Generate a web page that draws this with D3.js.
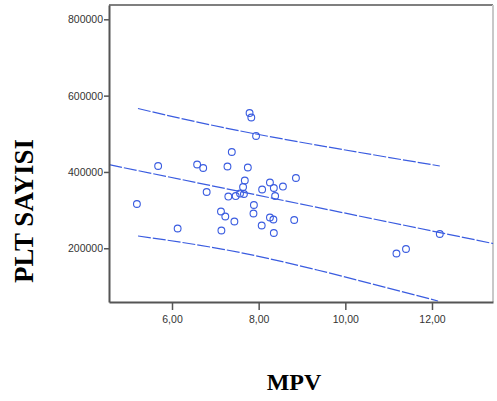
<!DOCTYPE html>
<html>
<head>
<meta charset="utf-8">
<script src="https://cdn.jsdelivr.net/npm/d3@7"></script>
<style>
  body { margin: 0; background: #fff; }
  svg { display: block; }
</style>
</head>
<body>
<svg id="chart" width="497" height="401"></svg>
<script>
// MPV (x) and PLT sayisi (y) per hasta
const mpv = [7.79, 7.83, 7.94, 7.38, 5.68, 6.58, 6.72, 7.28, 7.75, 8.86,
  5.19, 6.80, 7.68, 7.64, 7.30, 7.47, 7.57, 7.66, 8.08, 8.26,
  8.35, 8.56, 8.38, 7.89, 7.88, 7.13, 7.23, 7.44, 8.26, 8.34,
  8.82, 8.07, 6.13, 7.14, 8.35, 11.18, 11.40, 12.18];
const plt = [554400, 542700, 494200, 452300, 415600, 419500, 410300, 414300, 411600, 384100,
  316000, 347400, 377600, 360500, 335600, 336900, 343500, 342200, 354000, 372300,
  357900, 361800, 336900, 313400, 291100, 296300, 283200, 270100, 280600, 275400,
  274100, 259700, 251800, 246600, 240000, 186300, 198100, 237400];

// regresyon dogrusu ve tahmin araligi
const fitX = [4.55, 13.41];
const fitY = [419000, 212500];
const upperX = [5.215, 7.94, 12.18];
const upperY = [566200, 499400, 415600];
const lowerX = [5.215, 7.18, 9.35, 12.14];
const lowerY = [232200, 197300, 143100, 61800];

const xTicks = [6, 8, 10, 12];
const xTickLabels = ["6,00", "8,00", "10,00", "12,00"];
const yTicks = [200000, 400000, 600000, 800000];

const svg = d3.select("#chart");
const blue = "#3a5ce0";

const mLeft = 109, mRight = 493, mTop = 5, mBottom = 302;

const x = d3.scaleLinear().domain([4.546, 13.408]).range([mLeft, mRight]);
const y = d3.scaleLinear().domain([59200, 837500]).range([mBottom, mTop]);

// frame
svg.append("line").attr("x1", mLeft).attr("x2", mRight).attr("y1", mTop).attr("y2", mTop)
  .attr("stroke", "#555").attr("stroke-width", 1.5);
svg.append("line").attr("x1", mRight).attr("x2", mRight).attr("y1", mTop).attr("y2", mBottom)
  .attr("stroke", "#c8c8c8").attr("stroke-width", 2);

// lines
const line = d3.line().x((d) => x(d[0])).y((d) => y(d[1]));
const curved = d3.line().x((d) => x(d[0])).y((d) => y(d[1])).curve(d3.curveNatural);

const lines = [
  { pts: d3.zip(fitX, fitY), gen: line },
  { pts: d3.zip(upperX, upperY), gen: curved },
  { pts: d3.zip(lowerX, lowerY), gen: curved },
];

svg.append("g").selectAll("path").data(lines).enter().append("path")
  .attr("d", (d) => d.gen(d.pts))
  .attr("fill", "none")
  .attr("stroke", blue)
  .attr("stroke-width", 1.2)
  .attr("stroke-dasharray", "13,2");

// points
svg.append("g").selectAll("circle").data(d3.zip(mpv, plt)).enter().append("circle")
  .attr("cx", (d) => x(d[0]))
  .attr("cy", (d) => y(d[1]))
  .attr("r", 3.4)
  .attr("fill", "none")
  .attr("stroke", blue)
  .attr("stroke-width", 1.1);

// axes
const yAxis = svg.append("g").attr("transform", `translate(${mLeft},0)`)
  .call(d3.axisLeft(y).tickValues(yTicks).tickSize(5).tickSizeOuter(0).tickPadding(1).tickFormat(d3.format("d")));
const xAxis = svg.append("g").attr("transform", `translate(0,${mBottom})`)
  .call(d3.axisBottom(x).tickValues(xTicks).tickSize(8).tickSizeOuter(0).tickPadding(6)
    .tickFormat((d, i) => xTickLabels[i]));

[yAxis, xAxis].forEach((g) => {
  g.select(".domain").attr("stroke", "#555").attr("stroke-width", 2);
  g.selectAll(".tick line").attr("stroke", "#555").attr("stroke-width", 1.5);
  g.selectAll(".tick text").attr("fill", "#333")
    .style("font-family", "Liberation Sans, Arial, sans-serif").style("font-size", "10.5px");
});

// titles
svg.append("text")
  .attr("x", 294).attr("y", 390)
  .attr("text-anchor", "middle")
  .style("font-family", "Liberation Serif, Times New Roman, serif")
  .style("font-weight", "bold").style("font-size", "24px")
  .text("MPV");

svg.append("text")
  .attr("transform", "translate(33,211) rotate(-90)")
  .attr("text-anchor", "middle")
  .style("font-family", "Liberation Serif, Times New Roman, serif")
  .style("font-weight", "bold").style("font-size", "27px")
  .text("PLT SAYISI");
</script>
</body>
</html>
